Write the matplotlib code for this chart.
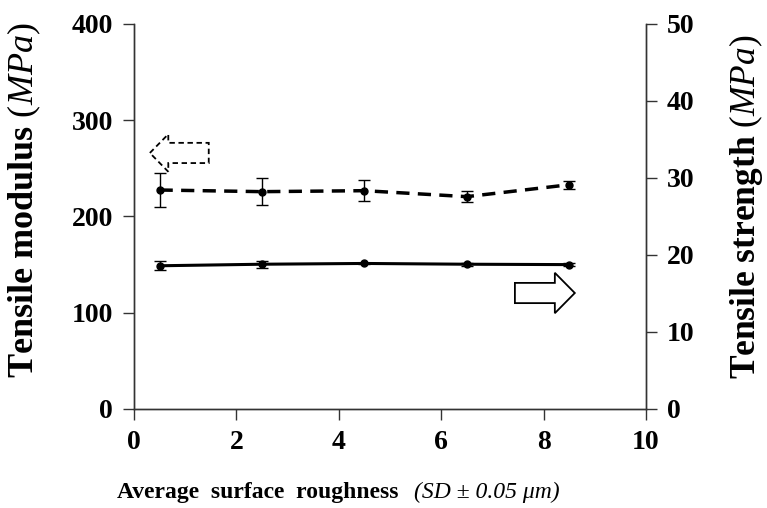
import matplotlib
matplotlib.use("Agg")
import matplotlib.pyplot as plt
from matplotlib.patches import FancyArrow

plt.rcParams['font.family'] = ['Liberation Serif', 'DejaVu Serif']
plt.rcParams['mathtext.fontset'] = 'custom'
plt.rcParams['mathtext.it'] = 'Liberation Serif:italic'
plt.rcParams['mathtext.rm'] = 'Liberation Serif'

# data
roughness = [0.5, 2.5, 4.5, 6.5, 8.5]
modulus = [227.5, 225.8, 226.8, 220.6, 233.0]      # MPa, left axis
modulus_err = [17.3, 13.9, 10.7, 5.7, 4.3]
strength = [18.6, 18.8, 18.9, 18.8, 18.75]        # MPa, right axis
strength_err = [0.6, 0.43, 0.12, 0.2, 0.2]

fig = plt.figure(figsize=(7.67, 5.08), dpi=100)
ax = fig.add_axes([0.1747, 0.1949, 0.6675, 0.7579])
ax2 = ax.twinx()

# modulus - dashed
ax.errorbar(roughness, modulus, yerr=modulus_err, color='black', lw=2.5,
            ls=(0, (3.8, 2.4)), marker='o', ms=5, capsize=4.5, elinewidth=1,
            capthick=1)
# strength - solid
ax2.errorbar(roughness, strength, yerr=strength_err, color='black', lw=2.2,
             marker='o', ms=5, capsize=4.5, elinewidth=1, capthick=1)

ax.set_xlim(0, 10)
ax.set_ylim(0, 400)
ax2.set_ylim(0, 50)
ax.set_xticks([0, 2, 4, 6, 8, 10])
ax.set_yticks([0, 100, 200, 300, 400])
ax2.set_yticks([0, 10, 20, 30, 40, 50])

for a in (ax, ax2):
    a.spines['top'].set_visible(False)
    for s in a.spines.values():
        s.set_linewidth(1)
        s.set_color('#333333')
    a.tick_params(direction='out', length=8, width=1, color='#333333',
                  labelsize=20, pad=7)
    for lbl in a.get_xticklabels() + a.get_yticklabels():
        lbl.set_fontweight('bold')

# axis titles
fig.text(24 / 767, 0.606, r'Tensile modulus $\mathit{(MPa)}$', rotation=90,
         fontsize=26, fontweight='bold', ha='center', va='center')
fig.text(746 / 767, 0.593, r'Tensile strength $\mathit{(MPa)}$', rotation=90,
         fontsize=25.5, fontweight='bold', ha='center', va='center')
fig.text(117 / 767, 0.02, 'Average  surface  roughness', fontsize=17,
         fontweight='bold', ha='left', va='baseline')
fig.text(414 / 767, 0.02, '(SD ± 0.05 μm)', fontsize=17, style='italic',
         ha='left', va='baseline')

# direction arrows
ax.add_patch(FancyArrow(1.46, 266, -1.15, 0, width=21, head_width=39,
                        head_length=0.36, length_includes_head=True,
                        facecolor='white', edgecolor='black', lw=1.3,
                        ls=(0, (3, 2))))
ax.add_patch(FancyArrow(7.44, 120.5, 1.17, 0, width=21, head_width=42,
                        head_length=0.39, length_includes_head=True,
                        facecolor='white', edgecolor='black', lw=1.3))

fig.savefig('out.png', dpi=100)
